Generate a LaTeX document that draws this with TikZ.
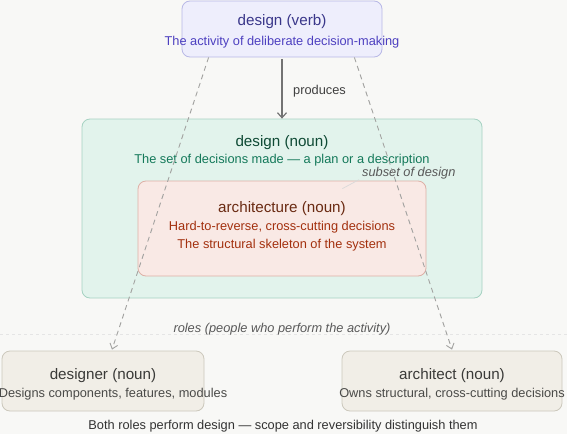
\documentclass[tikz,border=0pt]{standalone}
\usepackage{fontspec}
\setmainfont{Liberation Sans}
\usetikzlibrary{calc,arrows.meta}
\definecolor{bgc}{HTML}{F8F8F6}
\definecolor{verbfill}{HTML}{EEEEFC}
\definecolor{verbdraw}{HTML}{B8B8E6}
\definecolor{verbtitle}{HTML}{3A378A}
\definecolor{verbsub}{HTML}{4D40C0}
\definecolor{nounfill}{HTML}{E2F3EC}
\definecolor{noundraw}{HTML}{A6D2C2}
\definecolor{nountitle}{HTML}{0F4A35}
\definecolor{nounsub}{HTML}{14795A}
\definecolor{archfill}{HTML}{F9E9E5}
\definecolor{archdraw}{HTML}{DDB0A6}
\definecolor{archtitle}{HTML}{6A2A12}
\definecolor{archsub}{HTML}{A3300E}
\definecolor{rolefill}{HTML}{F1EEE7}
\definecolor{roledraw}{HTML}{CCC8BC}
\definecolor{roletitle}{HTML}{3A3A38}
\definecolor{rolesub}{HTML}{4A4A48}
\definecolor{linec}{HTML}{A2A2A0}
\tikzset{
  x=1pt,y=-1pt,
  box/.style={draw, rounded corners=8pt, line width=0.8pt, inner sep=0pt},
  ttl/.style={inner sep=0pt, font=\fontsize{15.2}{17}\selectfont},
  sub/.style={inner sep=0pt, font=\fontsize{12.8}{14}\selectfont},
  note/.style={inner sep=0pt, font=\fontsize{12.8}{14}\selectfont\itshape, text=black!65},
  dasharrow/.style={draw=linec, line width=0.9pt, dash pattern=on 5pt off 4pt, -{Straight Barb[length=5pt,width=8pt]}},
}
\begin{document}
\begin{tikzpicture}
\fill[bgc] (0,0) rectangle (567,434);
\useasboundingbox (0,0) rectangle (567,434);
% separator
\draw[black!10, line width=0.7pt, dash pattern=on 3pt off 3pt] (0,334) -- (567,334);
% boxes
\node[box, fill=verbfill, draw=verbdraw, minimum width=200pt, minimum height=56pt] (verb) at (282,29) {};
\node[box, fill=nounfill, draw=noundraw, minimum width=400pt, minimum height=179pt] (noun) at (282,208.5) {};
\node[box, fill=archfill, draw=archdraw, minimum width=288pt, minimum height=95pt] (arch) at (282,228.5) {};
\node[box, fill=rolefill, draw=roledraw, minimum width=202pt, minimum height=60pt] (designer) at (103,381) {};
\node[box, fill=rolefill, draw=roledraw, minimum width=220pt, minimum height=60pt] (architect) at (452,381) {};
% texts
\node[ttl, text=verbtitle] (verbt) at (282,22) {design (verb)};
\node[sub, text=verbsub] (verbs) at (282,42) {The activity of deliberate decision-making};
\node[ttl, text=nountitle] (nount) at (282,143) {design (noun)};
\node[sub, text=nounsub] (nouns) at (282,160) {The set of decisions made — a plan or a description};
\node[ttl, text=archtitle] (archt) at (282,209) {architecture (noun)};
\node[sub, text=archsub] (archs1) at (282,227) {Hard-to-reverse, cross-cutting decisions};
\node[sub, text=archsub] (archs2) at (282,245) {The structural skeleton of the system};
\node[ttl, text=roletitle] (designert) at (103,376) {designer (noun)};
\node[sub, text=rolesub] (designers) at (113,394) {Designs components, features, modules};
\node[ttl, text=roletitle] (architectt) at (452,376) {architect (noun)};
\node[sub, text=rolesub] (architects) at (452,394) {Owns structural, cross-cutting decisions};
\node[note, anchor=west] (subset) at (362,173.5) {subset of design};
\node[note] (roles) at (282,329) {roles (people who perform the activity)};
\node[sub, text=black!80] (both) at (283,426) {Both roles perform design — scope and reversibility distinguish them};
% leader
\draw[black!15, line width=0.7pt] (subset.south west) ++(-3,0) coordinate (ls) -- ($(arch.north east)+(-84,8)$) coordinate (le);
% produces arrow
\draw[draw=black!55, line width=1.2pt, -{Straight Barb[length=5pt,width=9pt]}] (verb.south) ++(0,2) coordinate (ps) -- (noun.north) coordinate (pe);
\node[sub, text=black!75, anchor=west] (prod) at (293,91) {produces};
% dashed role arrows
\draw[dasharrow] ($(verb.south west)+(27,0)$) coordinate (l1) -- ($(designer.north)+(9,-1)$) coordinate (l2);
\draw[dasharrow] ($(verb.south east)+(-28,0)$) coordinate (r1) -- ($(architect.north)+(0,-1)$) coordinate (r2);
\end{tikzpicture}
\end{document}
